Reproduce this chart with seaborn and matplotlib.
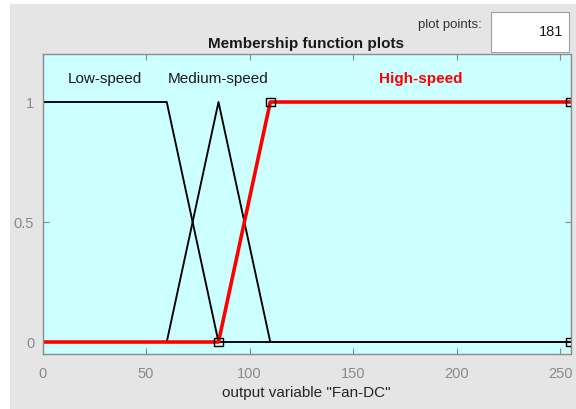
import matplotlib
matplotlib.use("Agg")
import matplotlib.pyplot as plt
import seaborn as sns
import pandas as pd
from matplotlib.patches import Rectangle

# Membership function breakpoints (output variable "Fan-DC")
low_x = [0, 60, 85, 255]
low_y = [1, 1, 0, 0]
med_x = [0, 60, 85, 110, 255]
med_y = [0, 0, 1, 0, 0]
high_x = [0, 85, 110, 255]
high_y = [0, 0, 1, 1]
# selected MF (High-speed) parameter handles
marker_x = [85, 110, 255, 255]
marker_y = [0, 1, 1, 0]

mf_names = ["Low-speed", "Medium-speed", "High-speed"]
label_x = [30, 85, 182.5]
x_ticks = [0, 50, 100, 150, 200, 250]
y_ticks = [0, 0.5, 1]
y_tick_labels = ["0", "0.5", "1"]
plot_points = "181"

sns.set_theme(style="white")
plt.rcParams["font.family"] = ["Liberation Sans", "DejaVu Sans"]

fig = plt.figure(figsize=(5.76, 4.09), dpi=100, facecolor="white")
# gray panel background
fig.patches.append(Rectangle((10 / 576, 0), 1 - 10 / 576, 1 - 4 / 409,
                             transform=fig.transFigure, facecolor="#e5e5e5",
                             edgecolor="none", zorder=0))

ax = fig.add_axes([42.5 / 576, 1 - 354 / 409, 528 / 576, 300 / 409])
ax.set_zorder(3)
ax.set_facecolor("#ccffff")

df_low = pd.DataFrame({"x": low_x, "y": low_y})
df_med = pd.DataFrame({"x": med_x, "y": med_y})
df_high = pd.DataFrame({"x": high_x, "y": high_y})

sns.lineplot(data=df_low, x="x", y="y", sort=False, estimator=None,
             color="black", linewidth=1.35, ax=ax)
sns.lineplot(data=df_med, x="x", y="y", sort=False, estimator=None,
             color="black", linewidth=1.35, ax=ax)
sns.lineplot(data=df_high, x="x", y="y", sort=False, estimator=None,
             color="#ff0000", linewidth=2.6, ax=ax)
sns.scatterplot(x=marker_x, y=marker_y, marker="s", s=38,
                facecolor="none", edgecolor="black", linewidth=1.0,
                ax=ax, zorder=5)

ax.set_xlim(0, 255)
ax.set_ylim(-0.05, 1.2)
ax.set_xticks(x_ticks)
ax.set_xticklabels([str(t) for t in x_ticks])
ax.set_yticks(y_ticks)
ax.set_yticklabels(y_tick_labels)
ax.tick_params(axis="x", direction="in", length=4.5, width=0.8, color="#888888",
               labelcolor="#8a8a8a", labelsize=10.5, pad=9, top=True, bottom=True)
ax.tick_params(axis="y", direction="in", length=4.5, width=0.8, color="#888888",
               labelcolor="#8a8a8a", labelsize=10.5, pad=6, left=True, right=True)
for sp in ax.spines.values():
    sp.set_color("#8c8c8c")
    sp.set_linewidth(1.0)

ax.set_xlabel('output variable "Fan-DC"', fontsize=11, color="#262626", labelpad=4)
ax.set_ylabel("")
ax.set_title("Membership function plots", fontsize=11, fontweight="bold",
             color="#1a1a1a", pad=4)

colors = ["#1a1a1a", "#1a1a1a", "#ff0000"]
weights = ["normal", "normal", "bold"]
for name, lx, c, w in zip(mf_names, label_x, colors, weights):
    ax.text(lx, 1.094, name, ha="center", va="center", fontsize=11,
            color=c, fontweight=w)

# "plot points" box
fig.text(482 / 576, 1 - 25 / 409, "plot points:", ha="right", va="center",
         fontsize=9.5, color="#333333", zorder=4)
fig.patches.append(Rectangle((491 / 576, 1 - 52 / 409), 78 / 576, 40 / 409,
                             transform=fig.transFigure, facecolor="white",
                             edgecolor="#a0a0a0", linewidth=0.8, zorder=1))
fig.text(563 / 576, 1 - 32 / 409, plot_points, ha="right", va="center",
         fontsize=10.5, color="#1a1a1a", zorder=4)

fig.savefig("out.png", dpi=100, facecolor=fig.get_facecolor())
